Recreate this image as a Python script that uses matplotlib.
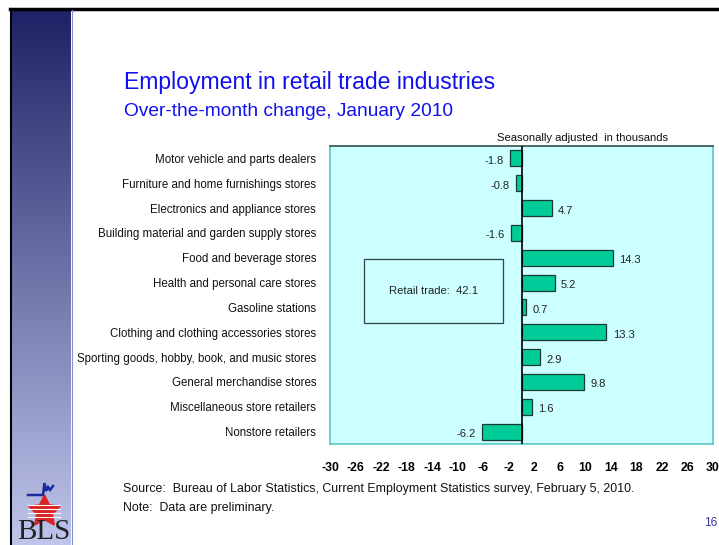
import matplotlib
matplotlib.use("Agg")
import matplotlib.pyplot as plt
import numpy as np
from matplotlib.patches import Rectangle

categories = [
    "Motor vehicle and parts dealers",
    "Furniture and home furnishings stores",
    "Electronics and appliance stores",
    "Building material and garden supply stores",
    "Food and beverage stores",
    "Health and personal care stores",
    "Gasoline stations",
    "Clothing and clothing accessories stores",
    "Sporting goods, hobby, book, and music stores",
    "General merchandise stores",
    "Miscellaneous store retailers",
    "Nonstore retailers",
]
values = [-1.8, -0.8, 4.7, -1.6, 14.3, 5.2, 0.7, 13.3, 2.9, 9.8, 1.6, -6.2]
xticks = list(range(-30, 31, 4))
total_label = "Retail trade:  42.1"

plt.rcParams['font.family'] = ['Liberation Sans', 'DejaVu Sans']

W, H = 719, 545
fig = plt.figure(figsize=(W / 100, H / 100), dpi=100)
fig.patch.set_facecolor('white')

def fx(px):
    return px / W

def fy(py):
    return 1 - py / H

# left gradient panel
bg = fig.add_axes([fx(12), 0, fx(71) - fx(12), fy(10)])
grad = np.linspace(0, 1, 256).reshape(-1, 1)
top = np.array([0x1e, 0x22, 0x66]) / 255
bot = np.array([0xc0, 0xc5, 0xec]) / 255
img = top[None, None, :] * (1 - grad[:, :, None]) + bot[None, None, :] * grad[:, :, None]
bg.imshow(img, aspect='auto', extent=[0, 1, 0, 1])
bg.set_axis_off()

# border lines
fig.add_artist(plt.Line2D([fx(10), 1], [fy(9), fy(9)], color='black', lw=2.5))
fig.add_artist(plt.Line2D([fx(10.5), fx(10.5)], [0, fy(9)], color='black', lw=1.5))
fig.add_artist(plt.Line2D([fx(71.5), fx(71.5)], [0, fy(10)], color='#8890d0', lw=0.8))

# BLS logo (axes data units = pixels; x from 0, y from 465 downward)
logo = fig.add_axes([0, 0, fx(80), fy(465)])
logo.set_xlim(0, 80)
logo.set_ylim(80, 0)
logo.set_axis_off()
logo.plot([44], [46], marker=(5, 1, 0), markersize=24, color='#dd2222', mec='#dd2222')
for yy in [40, 44, 48, 52]:
    logo.plot([28, 60], [yy, yy], color='white', lw=0.8)
logo.plot([28, 43, 44.5, 46, 48, 50, 53],
          [30, 30, 18, 26, 22, 25, 21], color='#1a2a9a', lw=1.8,
          solid_joinstyle='miter')
logo.text(44, 80, "BLS", ha='center', va='bottom', fontsize=21,
          family='Liberation Serif', color='#222222')

# main axes
ax = fig.add_axes([fx(330), fy(444), fx(713) - fx(330), fy(146) - fy(444)])
ax.set_facecolor('#ccffff')
y = np.arange(len(categories))
ax.barh(y, values, height=0.64, color='#00cc99', edgecolor='#1a3a33', lw=0.9, zorder=3)
ax.axvline(0, color='black', lw=1.2, zorder=4)
ax.set_xlim(-30, 30)
ax.set_ylim(len(categories) - 0.5, -0.5)
ax.set_yticks(y)
ax.set_yticklabels(categories, fontsize=8.3, color='#111111')
ax.tick_params(axis='y', length=0, pad=10)
ax.set_xticks(xticks)
ax.set_xticklabels([str(t) for t in xticks], fontsize=8.8, fontweight='bold')
ax.tick_params(axis='x', length=0, pad=13)
for s in ['left', 'right', 'bottom']:
    ax.spines[s].set_color('#5cc8c8')
    ax.spines[s].set_linewidth(1.2)
ax.spines['top'].set_color('#2f4f4f')
ax.spines['top'].set_linewidth(1.2)

for yi, v in zip(y, values):
    if v >= 0:
        ax.text(v + 1.0, yi + 0.1, f"{v:.1f}", ha='left', va='center', fontsize=8, color='#222222')
    else:
        ax.text(v - 1.0, yi + 0.1, f"{v:.1f}", ha='right', va='center', fontsize=8, color='#222222')

bx0 = (364 - 330) / 383
bw = (503 - 364) / 383
by0 = (444 - 323) / 298
bh = (323 - 259) / 298
ax.add_patch(Rectangle((bx0, by0), bw, bh, transform=ax.transAxes, fill=False,
                       edgecolor='#334444', lw=0.9, zorder=5))
ax.text(bx0 + bw / 2, by0 + bh / 2, total_label, transform=ax.transAxes, ha='center', va='center',
        fontsize=8.1, color='#222222', zorder=6)

ax.text(0.66, 1.01, "Seasonally adjusted  in thousands", transform=ax.transAxes, ha='center',
        va='bottom', fontsize=8.1, color='#111111')

# titles
fig.text(fx(124), fy(89), "Employment in retail trade industries", fontsize=16.6, color='#1010ee', va='baseline', ha='left')
fig.text(fx(124), fy(116), "Over-the-month change, January 2010", fontsize=13.8, color='#1010ee', va='baseline', ha='left')

fig.text(fx(123), fy(489), "Source:  Bureau of Labor Statistics, Current Employment Statistics survey, February 5, 2010.",
         fontsize=8.9, color='#111111', va='center', ha='left')
fig.text(fx(123), fy(508), "Note:  Data are preliminary.", fontsize=8.9, color='#111111', va='center', ha='left')
fig.text(fx(704), fy(523), "16", fontsize=8.5, color='#333399', va='center', ha='left')

fig.savefig("out.png", dpi=100)
